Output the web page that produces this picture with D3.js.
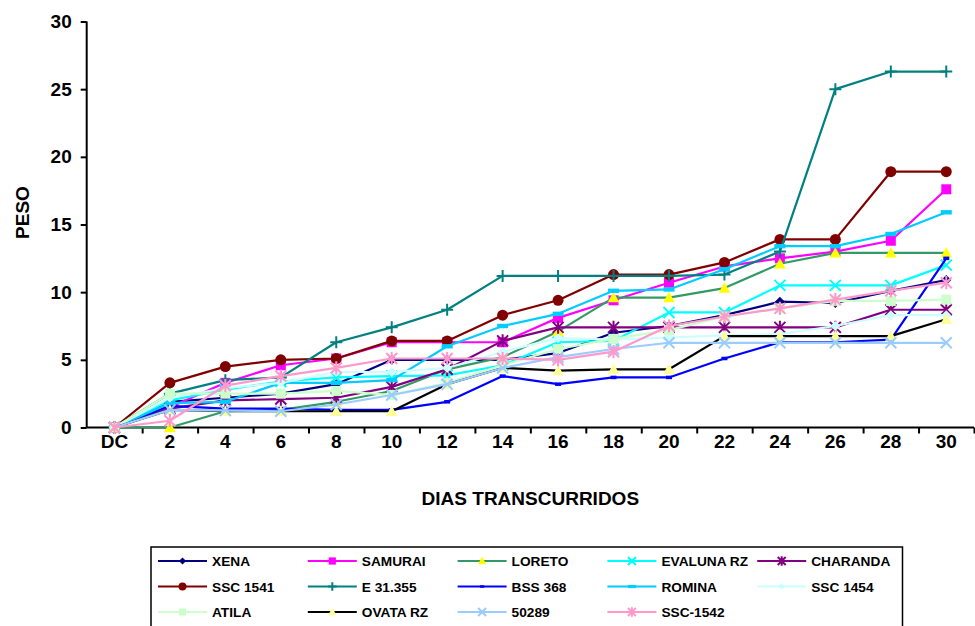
<!DOCTYPE html>
<html>
<head>
<meta charset="utf-8">
<script src="https://cdn.jsdelivr.net/npm/d3@7"></script>
<style>
  body { margin: 0; background: #fff; }
  svg { display: block; font-family: Arial, "Liberation Sans", sans-serif; }
</style>
</head>
<body>
<svg id="chart" width="975" height="626"></svg>
<script>
// Days after planting (DC = day of transplant) and weight per variety
const categories = ["DC", "2", "4", "6", "8", "10", "12", "14", "16", "18", "20", "22", "24", "26", "28", "30"];
const yTickValues = [0, 5, 10, 15, 20, 25, 30];

const xena     = [0, 1.9, 2.2, 2.5, 3.2, 5.0, 5.0, 5.0, 5.5, 7.0, 7.5, 8.3, 9.3, 9.2, 10.1, 10.9];
const samurai  = [0, 1.5, 3.3, 4.6, 5.1, 6.3, 6.3, 6.3, 8.1, 9.4, 10.7, 11.9, 12.5, 13.0, 13.8, 17.6];
const loreto   = [0, 0, 1.2, 1.3, 1.9, 2.7, 4.3, 5.2, 7.1, 9.6, 9.6, 10.3, 12.1, 12.9, 12.9, 12.9];
const evalunaRz = [0, 2.0, 2.8, 3.4, 3.7, 3.8, 3.85, 4.6, 6.3, 6.4, 8.5, 8.5, 10.5, 10.5, 10.5, 12.0];
const charanda = [0, 1.4, 2.0, 2.1, 2.2, 3.0, 4.3, 6.4, 7.4, 7.4, 7.4, 7.4, 7.4, 7.4, 8.7, 8.7];
const ssc1541  = [0, 3.3, 4.5, 5.0, 5.1, 6.4, 6.4, 8.3, 9.4, 11.3, 11.3, 12.2, 13.9, 13.9, 18.9, 18.9];
const e31355   = [0, 2.5, 3.5, 3.7, 6.3, 7.4, 8.7, 11.2, 11.2, 11.2, 11.2, 11.3, 13.0, 25.0, 26.3, 26.3];
const bss368   = [0, 1.6, 1.4, 1.4, 1.3, 1.3, 1.9, 3.8, 3.2, 3.7, 3.7, 5.1, 6.3, 6.3, 6.5, 12.5];
const romina   = [0, 1.8, 1.9, 3.3, 3.3, 3.5, 6.0, 7.5, 8.4, 10.1, 10.2, 11.7, 13.4, 13.4, 14.3, 15.9];
const ssc1454  = [0, 2.2, 2.9, 3.3, 4.1, 4.1, 4.4, 5.6, 6.6, 6.5, 6.65, 6.8, 6.9, 7.5, 8.3, 8.3];
const atila    = [0, 2.5, 2.5, 2.5, 2.7, 2.4, 3.3, 4.6, 5.8, 6.55, 7.2, 8.2, 8.8, 9.35, 9.35, 9.45];
const ovataRz  = [0, 1.3, 1.2, 1.2, 1.2, 1.2, 3.2, 4.4, 4.2, 4.3, 4.3, 6.75, 6.75, 6.75, 6.75, 8.0];
const v50289   = [0, 1.3, 1.25, 1.2, 1.7, 2.4, 3.2, 4.4, 5.2, 5.8, 6.26, 6.26, 6.26, 6.26, 6.26, 6.26];
const ssc1542  = [0, 0.5, 3.1, 3.8, 4.4, 5.1, 5.1, 5.1, 5.0, 5.6, 7.5, 8.2, 8.8, 9.45, 10.1, 10.7];

// Series in drawing / legend order, with line colour, marker colour and marker shape
const series = [
  { name: "XENA",       values: xena,      line: "#000080", mark: "#000080", shape: "diamond" },
  { name: "SAMURAI",    values: samurai,   line: "#FF00FF", mark: "#FF00FF", shape: "square" },
  { name: "LORETO",     values: loreto,    line: "#339966", mark: "#FFFF00", shape: "triangle" },
  { name: "EVALUNA RZ", values: evalunaRz, line: "#00FFFF", mark: "#00FFFF", shape: "x" },
  { name: "CHARANDA",   values: charanda,  line: "#800080", mark: "#800080", shape: "star" },
  { name: "SSC 1541",   values: ssc1541,   line: "#800000", mark: "#800000", shape: "circle" },
  { name: "E 31.355",   values: e31355,    line: "#008080", mark: "#008080", shape: "plus" },
  { name: "BSS 368",    values: bss368,    line: "#0000FF", mark: "#0000FF", shape: "shortdash" },
  { name: "ROMINA",     values: romina,    line: "#00CCFF", mark: "#00CCFF", shape: "dash" },
  { name: "SSC 1454",   values: ssc1454,   line: "#CCFFFF", mark: "#CCFFFF", shape: "diamond" },
  { name: "ATILA",      values: atila,     line: "#CCFFCC", mark: "#CCFFCC", shape: "square" },
  { name: "OVATA RZ",   values: ovataRz,   line: "#000000", mark: "#FFFF99", shape: "triangle" },
  { name: "50289",      values: v50289,    line: "#99CCFF", mark: "#99CCFF", shape: "x" },
  { name: "SSC-1542",   values: ssc1542,   line: "#FF99CC", mark: "#FF99CC", shape: "star" }
];

const svg = d3.select("#chart");
const plot = { left: 86.7, right: 974, top: 21.5, bottom: 427.5 };

const xBand = d3.scaleBand().domain(categories).range([plot.left, plot.right]);
const xc = c => xBand(c) + xBand.bandwidth() / 2;
const y = d3.scaleLinear().domain([0, 30]).range([plot.bottom, plot.top]);

// Draw one marker of the given shape centred at (cx, cy); s is the half-size
function marker(g, shape, color, cx, cy, s) {
  const m = g.append("g").attr("transform", `translate(${cx},${cy})`);
  switch (shape) {
    case "diamond":
      m.append("path").attr("d", `M0,${-s}L${s},0L0,${s}L${-s},0Z`).attr("fill", color);
      break;
    case "square":
      m.append("rect").attr("x", -s).attr("y", -s).attr("width", 2 * s).attr("height", 2 * s).attr("fill", color);
      break;
    case "triangle":
      m.append("path").attr("d", `M0,${-s * 1.05}L${s * 1.05},${s * 0.85}L${-s * 1.05},${s * 0.85}Z`).attr("fill", color);
      break;
    case "circle":
      m.append("circle").attr("r", s).attr("fill", color);
      break;
    case "x":
      m.append("path").attr("d", `M${-s},${-s}L${s},${s}M${-s},${s}L${s},${-s}`)
        .attr("stroke", color).attr("stroke-width", 2).attr("fill", "none");
      break;
    case "star":
      m.append("path").attr("d", `M${-s},${-s}L${s},${s}M${-s},${s}L${s},${-s}M0,${-s * 1.2}L0,${s * 1.2}`)
        .attr("stroke", color).attr("stroke-width", 2).attr("fill", "none");
      break;
    case "plus":
      m.append("path").attr("d", `M${-s},0L${s},0M0,${-s}L0,${s}`)
        .attr("stroke", color).attr("stroke-width", 2).attr("fill", "none");
      break;
    case "shortdash":
      m.append("rect").attr("x", -s * 0.6).attr("y", -s * 0.35).attr("width", s * 1.2).attr("height", s * 0.7).attr("fill", color);
      break;
    case "dash":
      m.append("rect").attr("x", -s).attr("y", -s * 0.4).attr("width", 2 * s).attr("height", s * 0.8).attr("fill", color);
      break;
  }
}

// Axes
const yAxis = d3.axisLeft(y).tickValues(yTickValues).tickSize(6).tickPadding(9);
const gy = svg.append("g").attr("transform", `translate(${plot.left},0)`).call(yAxis);
gy.select(".domain").attr("stroke", "#000").attr("stroke-width", 2).attr("d", `M0,${plot.top}V${plot.bottom}`);
gy.selectAll(".tick line").attr("stroke", "#000").attr("stroke-width", 2);
gy.selectAll(".tick text").attr("font-size", 19).attr("font-weight", "bold").attr("fill", "#000");

const xAxis = d3.axisBottom(xBand).tickSize(0).tickPadding(7);
const gx = svg.append("g").attr("transform", `translate(0,${plot.bottom})`).call(xAxis);
gx.select(".domain").remove();
gx.selectAll(".tick text").attr("font-size", 19).attr("font-weight", "bold").attr("fill", "#000");

// Tick marks sit on the boundaries between categories
const xEdge = d3.scaleLinear().domain([0, categories.length]).range([plot.left, plot.right]);
const gxt = svg.append("g").attr("transform", `translate(0,${plot.bottom})`)
  .call(d3.axisBottom(xEdge).tickValues(d3.range(1, categories.length + 1)).tickSize(6).tickFormat(""));
gxt.select(".domain").attr("stroke", "#000").attr("stroke-width", 2).attr("d", `M${plot.left},0H${plot.right}`);
gxt.selectAll(".tick line").attr("stroke", "#000").attr("stroke-width", 2);

// Axis titles
svg.append("text").attr("x", (plot.left + plot.right) / 2).attr("y", 505)
  .attr("text-anchor", "middle").attr("font-size", 19).attr("font-weight", "bold").text("DIAS TRANSCURRIDOS");
svg.append("text").attr("transform", `translate(29,${(plot.top + plot.bottom) / 2 - 12}) rotate(-90)`)
  .attr("text-anchor", "middle").attr("font-size", 19).attr("font-weight", "bold").text("PESO");

// Series lines and markers
const line = d3.line().x((d, i) => xc(categories[i])).y(d => y(d));
const markerSize = { diamond: 5, square: 5, triangle: 5.5, circle: 5.5, x: 5.5, star: 5.5, plus: 6, shortdash: 5, dash: 5.5 };
const gs = svg.append("g");
series.forEach(s => {
  const g = gs.append("g");
  g.append("path").datum(s.values).attr("d", line)
    .attr("fill", "none").attr("stroke", s.line).attr("stroke-width", 2.2).attr("stroke-linejoin", "round");
  s.values.forEach((v, i) => marker(g, s.shape, s.mark, xc(categories[i]), y(v), markerSize[s.shape]));
});

// Legend
const legend = svg.append("g");
legend.append("rect").attr("x", 151).attr("y", 547).attr("width", 751.5).attr("height", 100)
  .attr("fill", "#fff").attr("stroke", "#000").attr("stroke-width", 1.5);
const legendCols = 5, colStep = 149.8, rowStep = 25.5;
series.forEach((s, i) => {
  const col = i % legendCols, row = Math.floor(i / legendCols);
  const lx = 158 + col * colStep, ly = 561 + row * rowStep;
  const g = legend.append("g");
  g.append("line").attr("x1", lx).attr("x2", lx + 49).attr("y1", ly).attr("y2", ly)
    .attr("stroke", s.line).attr("stroke-width", 2.2);
  marker(g, s.shape, s.mark, lx + 24.5, ly, markerSize[s.shape] * 0.72);
  g.append("text").attr("x", lx + 54).attr("y", ly + 5).attr("font-size", 13.7).attr("font-weight", "bold").text(s.name);
});
</script>
</body>
</html>
